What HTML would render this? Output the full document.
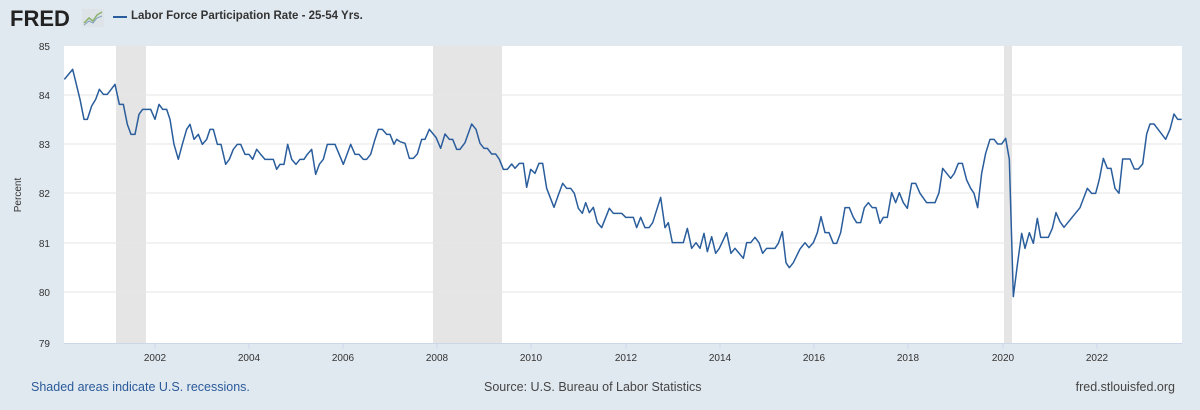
<!DOCTYPE html>
<html><head><meta charset="utf-8"><style>
body{margin:0;width:1200px;height:410px;background:#e1e9f0;font-family:"Liberation Sans",sans-serif;overflow:hidden;position:relative}
.t{position:absolute;white-space:nowrap}
</style></head><body>
<div class="t" style="left:10px;top:6px;font-size:22px;font-weight:bold;color:#222;letter-spacing:0px">FRED</div>
<svg class="t" style="left:82px;top:9px" width="22" height="18"><rect width="22" height="18" fill="#dde3e6"/><polyline points="2,14 7,9 11,12 15,6 20,3" fill="none" stroke="#8ab06a" stroke-width="1.5"/><polyline points="2,16 7,12 11,14 15,9 20,7" fill="none" stroke="#7ea0c0" stroke-width="1"/></svg>
<div class="t" style="left:113px;top:16px;width:14px;height:2px;background:#2a5d9c"></div>
<div class="t" style="left:131px;top:10px;font-size:11.5px;font-weight:bold;color:#333">Labor Force Participation Rate - 25-54 Yrs.</div>
<svg class="t" style="left:0;top:0" width="1200" height="410">
<rect x="64" y="46" width="1118" height="298" fill="#fff"/>
<rect x="116" y="46" width="30" height="298" fill="#e5e5e5"/>
<rect x="433" y="46" width="69" height="298" fill="#e5e5e5"/>
<rect x="1004" y="46" width="8" height="298" fill="#e5e5e5"/>
<g stroke="#e6e6e6" stroke-width="1">
<line x1="64" x2="1182" y1="95" y2="95"/><line x1="64" x2="1182" y1="144" y2="144"/><line x1="64" x2="1182" y1="193" y2="193"/><line x1="64" x2="1182" y1="243" y2="243"/><line x1="64" x2="1182" y1="292" y2="292"/>
</g>
<line x1="64" x2="1182" y1="343.5" y2="343.5" stroke="#ccd6eb"/>
<g stroke="#ccd6eb"><line x1="155" x2="155" y1="344" y2="349"/><line x1="249" x2="249" y1="344" y2="349"/><line x1="343" x2="343" y1="344" y2="349"/><line x1="437" x2="437" y1="344" y2="349"/><line x1="531" x2="531" y1="344" y2="349"/><line x1="626" x2="626" y1="344" y2="349"/><line x1="720" x2="720" y1="344" y2="349"/><line x1="814" x2="814" y1="344" y2="349"/><line x1="908" x2="908" y1="344" y2="349"/><line x1="1003" x2="1003" y1="344" y2="349"/><line x1="1097" x2="1097" y1="344" y2="349"/></g>
<g font-size="10" fill="#333" text-anchor="end" font-family="Liberation Sans,sans-serif">
<text x="50" y="50">85</text><text x="50" y="99">84</text><text x="50" y="148">83</text><text x="50" y="197">82</text><text x="50" y="247">81</text><text x="50" y="296">80</text><text x="50" y="347">79</text>
</g>
<g font-size="10" fill="#333" text-anchor="middle" font-family="Liberation Sans,sans-serif">
<text x="155" y="361">2002</text><text x="249" y="361">2004</text><text x="343" y="361">2006</text><text x="437" y="361">2008</text><text x="531" y="361">2010</text><text x="626" y="361">2012</text><text x="720" y="361">2014</text><text x="814" y="361">2016</text><text x="908" y="361">2018</text><text x="1003" y="361">2020</text><text x="1097" y="361">2022</text>
</g>
<text x="21" y="195" font-size="10" fill="#333" text-anchor="middle" transform="rotate(-90 21 195)" font-family="Liberation Sans,sans-serif">Percent</text>
<g fill="none" stroke="#2a5d9c" stroke-width="1.5" stroke-linejoin="round">
<g transform="translate(0,0) scale(0.33333)"><polyline vector-effect="non-scaling-stroke" points="193,238 218,208 240,298 252,358 262,358 275,318 287,298 298,268 310,283 322,283 345,253 358,313 370,313 382,373 393,403 405,403 417,343 428,328 452,328 465,358 477,313 488,328 500,328 510,358 522,433 535,478 547,433 560,388 570,373 582,418 595,403 607,433 620,418 630,388 640,388 652,433 663,433 677,493 688,478 700,448 712,433 722,433 735,463 747,463 758,478 770,448 782,463 795,478 820,478 830,508 840,493 852,493 863,433 875,478 888,493 900,478 912,478 922,463 935,448 947,523 958,493 970,478 982,433 1005,433 1030,493 1052,433 1065,463 1077,463 1090,478 1100,478 1112,463 1125,418 1135,388 1147,388 1160,403 1170,403 1182,433 1190,418 1200,425"/></g>
<g transform="translate(400,80) scale(0.33333)"><polyline vector-effect="non-scaling-stroke" points="0,185 15,190 28,235 40,235 52,222 65,178 75,178 88,148 108,172 122,205 135,162 148,178 158,178 170,208 180,208 195,188 215,132 228,148 240,190 252,205 262,205 275,222 287,222 298,238 310,268 322,268 335,252 345,265 358,250 370,250 380,322 392,268 405,280 417,250 428,250 440,325 462,382 475,345 488,310 500,325 512,325 523,340 535,385 547,400 557,368 568,398 580,382 592,428 605,443 628,385 640,400 665,400 677,412 700,412 710,443 722,412 735,443 747,443 758,428 782,352 795,443 805,428 817,488 850,488 862,445 875,505 888,488 900,505 912,460 922,515 935,470 947,520 958,505 980,458 993,520 1005,505 1030,535 1040,488 1052,488 1065,472 1077,488 1088,520 1100,505 1125,505 1135,490 1147,455 1158,548 1168,563 1180,548 1200,507"/></g>
<g transform="translate(800,80) scale(0.33333)"><polyline vector-effect="non-scaling-stroke" points="0,507 15,488 27,503 40,488 52,458 63,410 75,458 87,458 100,490 110,490 122,458 135,383 148,383 160,412 170,428 182,428 193,383 205,368 217,383 228,383 240,430 250,412 262,412 275,338 287,368 298,338 310,368 322,385 335,310 347,310 360,340 380,368 405,368 417,338 428,265 452,295 463,280 475,250 487,250 500,300 512,325 522,340 533,383 545,280 557,220 570,178 582,178 593,192 605,192 617,175 628,238 640,650 652,555 665,460 675,505 688,458 700,490 712,415 722,472 745,472 757,445 768,398 780,425 792,442 840,383 862,325 875,340 887,340 898,298 910,235 922,265 933,265 945,325 957,340 968,237 990,237 1003,267 1015,267 1028,252 1040,162 1050,132 1062,132 1097,178 1110,148 1122,102 1133,118 1145,118"/></g>
</g>
</svg>
<div class="t" style="left:31px;top:380px;font-size:12.5px;color:#2a5a9a">Shaded areas indicate U.S. recessions.</div>
<div class="t" style="left:484px;top:380px;font-size:12.5px;color:#444">Source: U.S. Bureau of Labor Statistics</div>
<div class="t" style="right:25px;top:380px;font-size:12.5px;color:#444">fred.stlouisfed.org</div>
</body></html>
